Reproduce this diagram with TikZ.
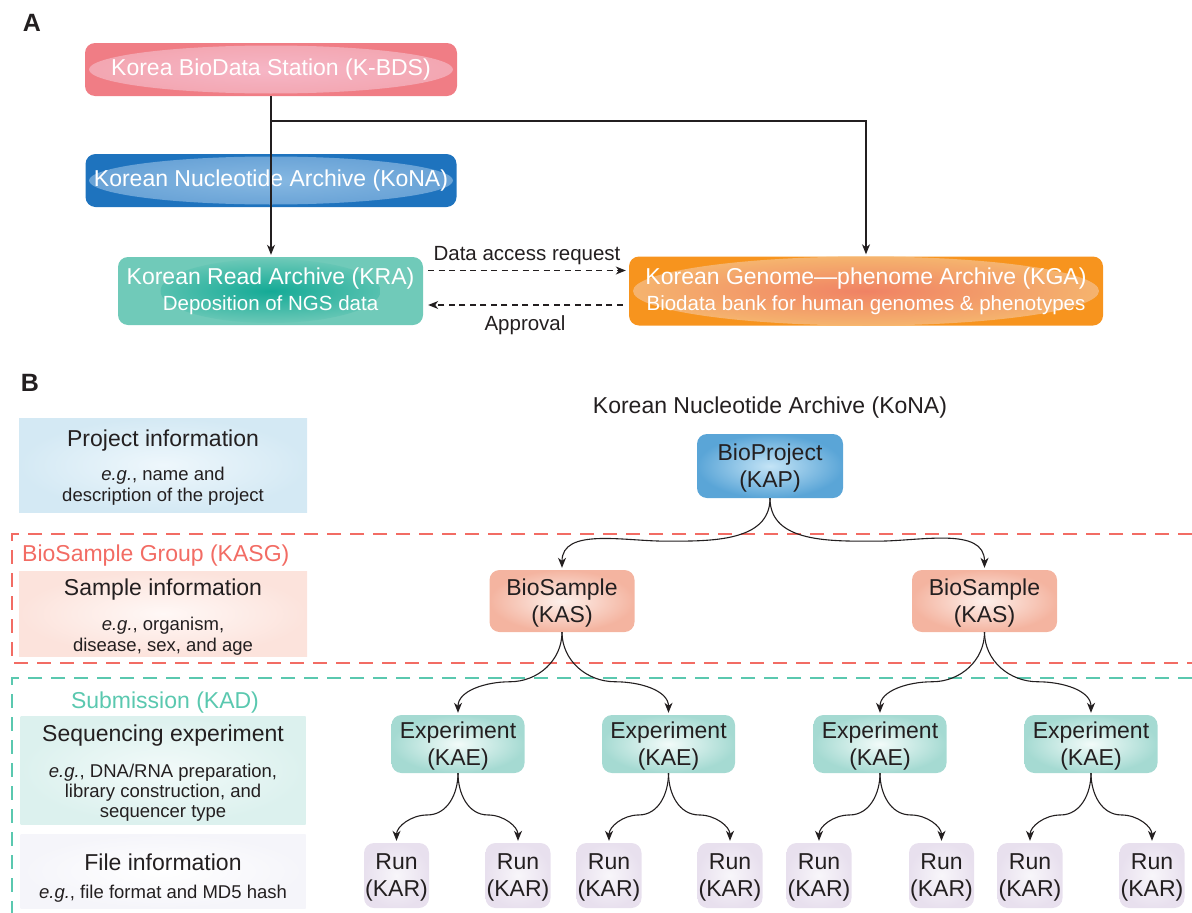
\documentclass[tikz,border=0pt]{standalone}
\usepackage{fontspec}
\setmainfont{Liberation Sans}
\usetikzlibrary{arrows.meta,calc}
\definecolor{txt}{HTML}{231F20}
\definecolor{kbdsO}{HTML}{F07D85}
\definecolor{kbdsE}{HTML}{F3A6B1}
\definecolor{kbdsC}{HTML}{F6B6C6}
\definecolor{konaO}{HTML}{1E73BE}
\definecolor{konaE}{HTML}{68A2D6}
\definecolor{konaC}{HTML}{86B8E2}
\definecolor{kraO}{HTML}{70CAB9}
\definecolor{kraC}{HTML}{14AA96}
\definecolor{kgaO}{HTML}{F7941E}
\definecolor{kgaE}{HTML}{F5B46E}
\definecolor{kgaC}{HTML}{F08264}
\definecolor{projE}{HTML}{5AA5D7}
\definecolor{projC}{HTML}{C4E4F6}
\definecolor{sampE}{HTML}{F4B4A0}
\definecolor{sampC}{HTML}{FDF0EB}
\definecolor{expE}{HTML}{A5DAD2}
\definecolor{expC}{HTML}{F2FBF9}
\definecolor{runE}{HTML}{E8E0EE}
\definecolor{runC}{HTML}{F8F6FA}
\definecolor{pinfoE}{HTML}{D4E9F4}
\definecolor{pinfoC}{HTML}{EEF7FC}
\definecolor{sinfoE}{HTML}{FCE3DC}
\definecolor{sinfoC}{HTML}{FFF8F6}
\definecolor{qinfoE}{HTML}{DCF1EE}
\definecolor{qinfoC}{HTML}{F2FAF9}
\definecolor{finfoE}{HTML}{F5F5FA}
\definecolor{finfoC}{HTML}{FFFFFF}
\definecolor{redd}{HTML}{F26C64}
\definecolor{teald}{HTML}{5AC8AF}
\newcommand\fsL{\fontsize{23}{27}\selectfont}
\newcommand\fsM{\fontsize{20.5}{26}\selectfont}
\newcommand\fsS{\fontsize{18.5}{20.5}\selectfont}
\newcommand\lbr[2]{\draw[arr] let \p1=(#1.south), \p2=(#2.north) in (\p1) to[out=-90,in=0] ({0.5*\x1+0.5*\x2},{0.4*\y1+0.6*\y2}) to[out=180,in=90] (\p2);}
\newcommand\rbr[2]{\draw[arr] let \p1=(#1.south), \p2=(#2.north) in (\p1) to[out=-90,in=180] ({0.5*\x1+0.5*\x2},{0.4*\y1+0.6*\y2}) to[out=0,in=90] (\p2);}
\begin{document}
\begin{tikzpicture}[x=1pt,y=-1pt,
  arr/.style={-{Stealth[length=10pt,width=8pt,inset=3pt]}, line width=1.1pt, shorten >=2pt, draw=txt},
  darr/.style={-{Stealth[length=10pt,width=8pt,inset=3pt]}, line width=1.1pt, dash pattern=on 6pt off 4.5pt, draw=txt},
  abox/.style={rounded corners=10pt, inner sep=0pt, text=white, align=center},
  tnode/.style={rounded corners=10pt, inner sep=0pt, align=center, font=\fsL, text=txt, shading=radial, text depth=0pt},
  ibox/.style={inner sep=0pt, shading=radial},
  tl/.style={anchor=base, inner sep=0pt, text=txt},
  proj/.style={tnode, minimum width=146pt, minimum height=64pt, inner color=projC, outer color=projE},
  samp/.style={tnode, minimum width=145pt, minimum height=62pt, inner color=sampC, outer color=sampE},
  expe/.style={tnode, minimum width=133pt, minimum height=58pt, inner color=expC, outer color=expE},
  run/.style={tnode, minimum width=65pt, minimum height=65pt, inner color=runC, outer color=runE},
  reddash/.style={draw=redd, line width=1.8pt, dash pattern=on 14pt off 9pt},
  tealdash/.style={draw=teald, line width=1.8pt, dash pattern=on 14pt off 9pt},
]
\useasboundingbox (0,0) rectangle (1192,913);

% ---------------- Panel A ----------------
\node[font=\bfseries\fontsize{25}{28}\selectfont, tl] (labA) at (32,31) {A};

\node[abox, fill=kbdsO, minimum width=372pt, minimum height=53pt, font=\fsL,
  path picture={\shade[inner color=kbdsC, outer color=kbdsE] (path picture bounding box.center) ellipse [x radius=182pt, y radius=24pt];}]
  (kbds) at (271,69.5) {Korea BioData Station (K-BDS)};

\node[abox, fill=konaO, minimum width=371pt, minimum height=53pt, font=\fsL,
  path picture={\shade[inner color=konaC, outer color=konaE] (path picture bounding box.center) ellipse [x radius=182pt, y radius=24pt];}]
  (kona) at (271,180.5) {Korean Nucleotide Archive (KoNA)};

\node[abox, fill=kraO, minimum width=305pt, minimum height=68pt, font=\fsL,
  path picture={\shade[inner color=kraC, outer color=kraO] (path picture bounding box.center) ellipse [x radius=110pt, y radius=32pt];}]
  (kra) at (270.5,291) {Korean Read Archive (KRA)\\[-1pt]{\fsM Deposition of NGS data}};

\node[abox, fill=kgaO, minimum width=474pt, minimum height=69pt, font=\fsL,
  path picture={\shade[inner color=kgaC, outer color=kgaE] (path picture bounding box.center) ellipse [x radius=233pt, y radius=34.5pt];}]
  (kga) at (866,291) {Korean Genome\textemdash phenome Archive (KGA)\\[-1pt]{\fsM Biodata bank for human genomes \& phenotypes}};

\coordinate (br) at (271,121);
\draw[arr] (kbds.south) -- (kbds.south |- kra.north);
\draw[arr] (br) -| (kga.north);

\draw[darr] ([xshift=5pt,yshift=20.5pt]kra.east) -- ([xshift=-3pt,yshift=20.5pt]kga.west);
\draw[darr] ([xshift=-6pt,yshift=-14pt]kga.west) -- ([xshift=5pt,yshift=-14pt]kra.east);
\node[tl, font=\fsM] (req) at (527,260.5) {Data access request};
\node[tl, font=\fsM] (appr) at (525,330.5) {Approval};

% ---------------- Panel B ----------------
\node[font=\bfseries\fontsize{25}{28}\selectfont, tl] (labB) at (30,391) {B};

\draw[reddash] (1192,534) -- (12,534) -- (12,663) -- (1192,663);
\draw[tealdash] (1192,678) -- (12,678) -- (12,913);

% left info boxes
\node[ibox, minimum width=288pt, minimum height=94pt, inner color=pinfoC, outer color=pinfoE] (pinfo) at (163,465) {};
\node[tl, font=\fsL] (pinfoT) at (163,446) {Project information};
\node[tl, font=\fsS] (pinfo1) at (163,480.5) {\textit{e.g.}, name and};
\node[tl, font=\fsS] (pinfo2) at (163,501.5) {description of the project};

\node[anchor=base west, inner sep=0pt, font=\fsL, text=redd] (kasg) at (22,561) {BioSample Group (KASG)};
\node[ibox, minimum width=288pt, minimum height=85pt, inner color=sinfoC, outer color=sinfoE] (sinfo) at (163,613.5) {};
\node[tl, font=\fsL] (sinfoT) at (163,595) {Sample information};
\node[tl, font=\fsS] (sinfo1) at (163,630.5) {\textit{e.g.}, organism,};
\node[tl, font=\fsS] (sinfo2) at (163,651.5) {disease, sex, and age};

\node[tl, font=\fsL, text=teald] (kad) at (165,708) {Submission (KAD)};
\node[ibox, minimum width=285pt, minimum height=108pt, inner color=qinfoC, outer color=qinfoE] (qinfo) at (163,770) {};
\node[tl, font=\fsL] (qinfoT) at (163,741) {Sequencing experiment};
\node[tl, font=\fsS] (qinfo1) at (163,777) {\textit{e.g.}, DNA/RNA preparation,};
\node[tl, font=\fsS] (qinfo2) at (163,797) {library construction, and};
\node[tl, font=\fsS] (qinfo3) at (163,817) {sequencer type};

\node[ibox, minimum width=285pt, minimum height=74pt, inner color=finfoC, outer color=finfoE] (finfo) at (163,871) {};
\node[tl, font=\fsL] (finfoT) at (163,870) {File information};
\node[tl, font=\fsS] (finfo1) at (163,898.5) {\textit{e.g.}, file format and MD5 hash};

% tree
\node[tl, font=\fsL] (konaT) at (770,413) {Korean Nucleotide Archive (KoNA)};
\node[proj] (bp) at (770,466) {BioProject\\(KAP)};
\node[samp] (s1) at (562,601) {BioSample\\(KAS)};
\node[samp] (s2) at (984.5,601) {BioSample\\(KAS)};
\node[expe] (e1) at (458,744) {Experiment\\(KAE)};
\node[expe] (e2) at (668.5,744) {Experiment\\(KAE)};
\node[expe] (e3) at (880,744) {Experiment\\(KAE)};
\node[expe] (e4) at (1091,744) {Experiment\\(KAE)};
\node[run] (r1) at (396.5,875.5) {Run\\(KAR)};
\node[run] (r2) at (518,875.5) {Run\\(KAR)};
\node[run] (r3) at (609,875.5) {Run\\(KAR)};
\node[run] (r4) at (730,875.5) {Run\\(KAR)};
\node[run] (r5) at (819,875.5) {Run\\(KAR)};
\node[run] (r6) at (941.5,875.5) {Run\\(KAR)};
\node[run] (r7) at (1030,875.5) {Run\\(KAR)};
\node[run] (r8) at (1152,875.5) {Run\\(KAR)};

\lbr{bp}{s1} \rbr{bp}{s2}
\lbr{s1}{e1} \rbr{s1}{e2}
\lbr{s2}{e3} \rbr{s2}{e4}
\lbr{e1}{r1} \rbr{e1}{r2}
\lbr{e2}{r3} \rbr{e2}{r4}
\lbr{e3}{r5} \rbr{e3}{r6}
\lbr{e4}{r7} \rbr{e4}{r8}
\end{tikzpicture}
\end{document}
